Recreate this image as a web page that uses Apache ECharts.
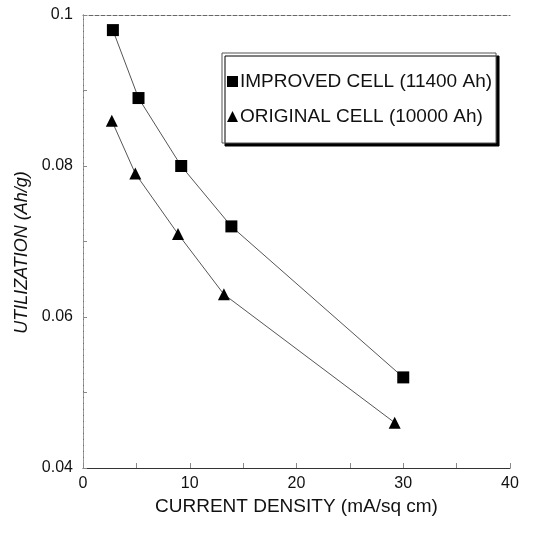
<!DOCTYPE html>
<html>
<head>
<meta charset="utf-8">
<script src="https://cdn.jsdelivr.net/npm/echarts@6/dist/echarts.min.js"></script>
<style>
  html, body { margin: 0; padding: 0; background: #fff; }
  #chart { width: 536px; height: 552px; }
</style>
</head>
<body>
<div id="chart"></div>
<script>
// data
const seriesNames = ['IMPROVED CELL (11400 Ah)', 'ORIGINAL CELL (10000 Ah)'];
const improvedX = [2.8, 5.2, 9.2, 13.9, 30.0];
const improvedY = [0.098, 0.089, 0.080, 0.072, 0.052];
const originalX = [2.7, 4.9, 8.9, 13.2, 29.2];
const originalY = [0.086, 0.079, 0.071, 0.063, 0.046];
const xTicks = [0, 10, 20, 30, 40];
const yTicks = [0.04, 0.06, 0.08, 0.1];

const font = 'Liberation Sans, Arial, sans-serif';
const pairs = (xs, ys) => xs.map((x, i) => [x, ys[i]]);

const chart = echarts.init(document.getElementById('chart'));

chart.setOption({
  animation: false,
  grid: { left: 83, right: 26, top: 15, bottom: 84 },
  legend: {
    orient: 'vertical',
    left: 222,
    top: 53,
    padding: [19, 4, 17, 5],
    itemGap: 16,
    itemWidth: 11,
    itemHeight: 11,
    backgroundColor: '#fff',
    borderColor: '#555',
    borderWidth: 1,
    shadowColor: '#000',
    shadowOffsetX: 3,
    shadowOffsetY: 3,
    shadowBlur: 0,
    textStyle: { color: '#111', fontSize: 19, fontFamily: font, padding: [0, 0, 0, -3] },
    data: [
      { name: seriesNames[0], icon: 'rect', itemStyle: { color: '#000' } },
      { name: seriesNames[1], icon: 'triangle', itemStyle: { color: '#000' } }
    ]
  },
  xAxis: [{
    type: 'value',
    min: 0,
    max: 40,
    interval: 10,
    name: 'CURRENT DENSITY (mA/sq cm)',
    nameLocation: 'middle',
    nameGap: 27,
    nameTextStyle: { color: '#111', fontSize: 19, fontFamily: font },
    axisLine: { lineStyle: { color: '#333', width: 1 } },
    axisTick: { show: true, inside: true, length: 5, lineStyle: { color: '#888' } },
    minorTick: { show: true, splitNumber: 2, length: 5, lineStyle: { color: '#888' } },
    splitLine: { show: false },
    axisLabel: { color: '#111', fontSize: 16, fontFamily: font, margin: 8,
      formatter: v => xTicks.includes(v) ? String(v) : '' }
  }, {
    type: 'value',
    position: 'top',
    min: 0,
    max: 40,
    axisLine: { show: true, lineStyle: { color: '#666', width: 1, type: 'dashed' } },
    axisTick: { show: false },
    axisLabel: { show: false },
    splitLine: { show: false }
  }],
  yAxis: [{
    type: 'value',
    min: 0.04,
    max: 0.1,
    interval: 0.02,
    name: 'UTILIZATION (Ah/g)',
    nameLocation: 'middle',
    nameGap: 47,
    nameTextStyle: { color: '#111', fontSize: 18, fontStyle: 'italic', fontFamily: font,
      padding: [0, 22, 0, 0] },
    axisLine: { show: true, lineStyle: { color: '#555', width: 1, type: 'dotted' } },
    axisTick: { show: true, inside: true, length: 4, lineStyle: { color: '#888' } },
    minorTick: { show: true, splitNumber: 2, length: 4, lineStyle: { color: '#888' } },
    splitLine: { show: false },
    axisLabel: { color: '#111', fontSize: 16, fontFamily: font, margin: 10,
      formatter: v => {
        const t = yTicks.find(k => Math.abs(k - v) < 1e-9);
        return t === undefined ? '' : String(t);
      } }
  }, {
    type: 'value',
    position: 'right',
    min: 0.04,
    max: 0.1,
    axisLine: { show: true, lineStyle: { color: '#999', width: 1, type: 'dashed' } },
    axisTick: { show: false },
    axisLabel: { show: false },
    splitLine: { show: false }
  }],
  series: [{
    name: seriesNames[0],
    type: 'line',
    data: pairs(improvedX, improvedY),
    symbol: 'rect',
    symbolSize: 12,
    itemStyle: { color: '#000' },
    lineStyle: { color: '#555', width: 1 }
  }, {
    name: seriesNames[1],
    type: 'line',
    data: pairs(originalX, originalY),
    symbol: 'triangle',
    symbolSize: 12,
    itemStyle: { color: '#000' },
    lineStyle: { color: '#555', width: 1 }
  }]
});
</script>
</body>
</html>
